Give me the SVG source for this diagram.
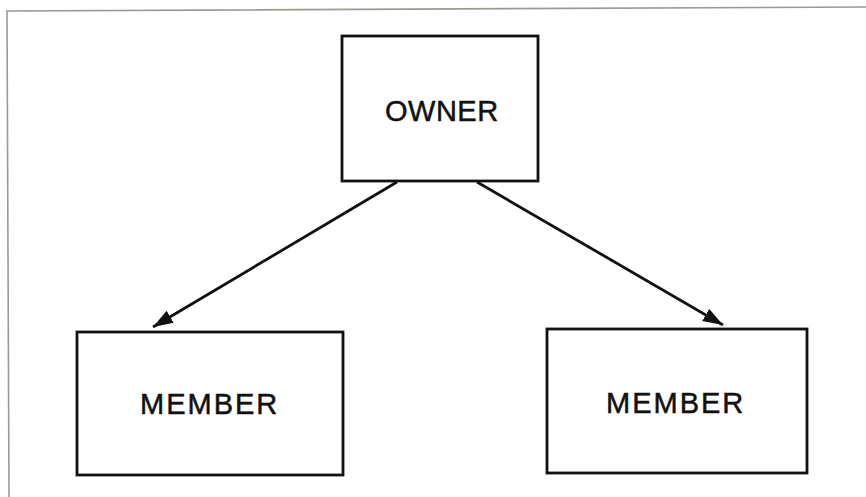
<svg xmlns="http://www.w3.org/2000/svg" width="866" height="497" viewBox="0 0 866 497">
<style>
.box{fill:#fff;stroke:#111;stroke-width:2.8}
.lbl{font-family:"Liberation Sans",Arial,sans-serif;font-size:29px;fill:#111;stroke:#111;stroke-width:0.5}
.con{fill:none;stroke:#111;stroke-width:2.8}
.frame{fill:none;stroke:#9a9a92;stroke-width:1.6}
</style>
<defs>
<marker id="ah" markerUnits="userSpaceOnUse" markerWidth="22" markerHeight="16" refX="20" refY="7" orient="auto">
<path d="M0,0 L20,7 L0,14 z" fill="#111"/>
</marker>
</defs>
<rect width="866" height="497" fill="#fff"/>
<polyline class="frame" points="9,497 7,11 866,7"/>
<g id="owner">
<rect class="box" x="342" y="36" width="196" height="145"/>
<text class="lbl" x="385" y="121" style="letter-spacing:0.5px">OWNER</text>
</g>
<g id="member1">
<rect class="box" x="77" y="332" width="266" height="143"/>
<text class="lbl" x="140" y="414" style="letter-spacing:2px">MEMBER</text>
</g>
<g id="member2">
<rect class="box" x="547" y="329" width="260" height="144"/>
<text class="lbl" x="606" y="413" style="letter-spacing:2px">MEMBER</text>
</g>
<g id="connectors">
<line class="con" x1="397" y1="182" x2="153" y2="327" marker-end="url(#ah)"/>
<line class="con" x1="477" y1="182" x2="723" y2="325" marker-end="url(#ah)"/>
</g>
</svg>
